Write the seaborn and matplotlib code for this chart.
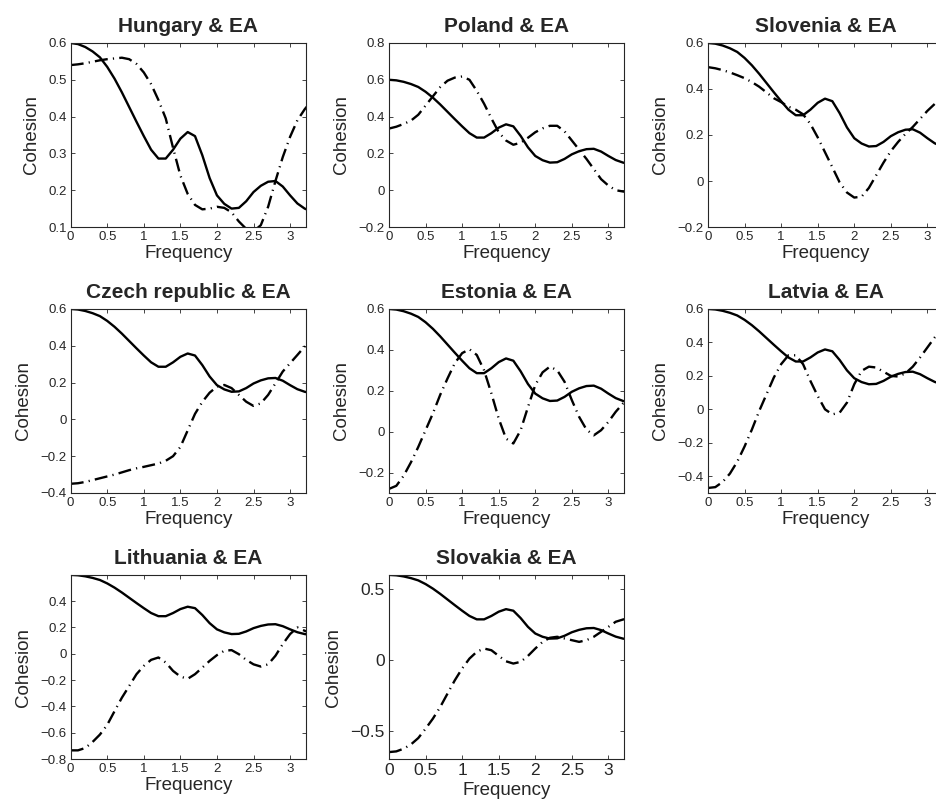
import numpy as np
import pandas as pd
import seaborn as sns
import matplotlib
matplotlib.use('Agg')
import matplotlib.pyplot as plt
from matplotlib.ticker import FuncFormatter

# frequency grid (radians), shared by every panel
freq = [0.0, 0.1, 0.2, 0.3, 0.4, 0.5, 0.6, 0.7, 0.8, 0.9, 1.0, 1.1, 1.2, 1.3, 1.4, 1.5, 1.6,
        1.7, 1.8, 1.9, 2.0, 2.1, 2.2, 2.3, 2.4, 2.5, 2.6, 2.7, 2.8, 2.9, 3.0, 3.1, 3.2, 3.25]

# solid line: euro area cohesion (same in every panel)
ea = [0.600, 0.597, 0.589, 0.577, 0.561, 0.535, 0.503, 0.466, 0.426, 0.386, 0.347, 0.310,
      0.286, 0.286, 0.310, 0.340, 0.358, 0.347, 0.295, 0.233, 0.186, 0.163, 0.150, 0.152,
      0.170, 0.195, 0.212, 0.223, 0.225, 0.210, 0.186, 0.164, 0.150, 0.146]

# dash-dot lines: country vs EA
hungary = [0.540, 0.542, 0.545, 0.549, 0.553, 0.556, 0.558, 0.560, 0.556, 0.543, 0.520, 0.488,
           0.445, 0.395, 0.315, 0.240, 0.190, 0.160, 0.148, 0.150, 0.155, 0.152, 0.140, 0.115,
           0.095, 0.088, 0.105, 0.155, 0.225, 0.290, 0.345, 0.390, 0.420, 0.432]
poland = [0.335, 0.345, 0.360, 0.378, 0.410, 0.460, 0.510, 0.560, 0.595, 0.612, 0.618, 0.600,
          0.540, 0.470, 0.390, 0.315, 0.270, 0.247, 0.258, 0.285, 0.315, 0.336, 0.350, 0.350,
          0.320, 0.270, 0.220, 0.170, 0.115, 0.060, 0.025, 0.000, -0.007, -0.010]
slovenia = [0.495, 0.490, 0.482, 0.472, 0.460, 0.447, 0.430, 0.410, 0.385, 0.360, 0.343, 0.323,
            0.310, 0.290, 0.248, 0.190, 0.125, 0.060, -0.006, -0.050, -0.072, -0.068, -0.030, 0.025,
            0.080, 0.130, 0.170, 0.205, 0.235, 0.270, 0.305, 0.335, 0.360, 0.372]
czech = [-0.350, -0.347, -0.340, -0.330, -0.320, -0.310, -0.300, -0.288, -0.276, -0.266, -0.258, -0.249,
         -0.240, -0.225, -0.200, -0.150, -0.060, 0.030, 0.095, 0.145, 0.178, 0.187, 0.170, 0.133,
         0.096, 0.073, 0.087, 0.133, 0.196, 0.260, 0.305, 0.350, 0.396, 0.418]
estonia = [-0.280, -0.265, -0.216, -0.150, -0.075, 0.007, 0.089, 0.180, 0.260, 0.335, 0.384, 0.403,
           0.375, 0.300, 0.187, 0.064, -0.034, -0.058, 0.007, 0.120, 0.228, 0.290, 0.318, 0.300,
           0.244, 0.154, 0.072, 0.010, -0.018, 0.007, 0.048, 0.097, 0.138, 0.155]
latvia = [-0.470, -0.465, -0.434, -0.384, -0.313, -0.222, -0.121, -0.010, 0.090, 0.190, 0.270, 0.323,
          0.323, 0.270, 0.170, 0.080, 0.000, -0.030, -0.020, 0.040, 0.150, 0.230, 0.255, 0.250,
          0.225, 0.200, 0.196, 0.215, 0.255, 0.310, 0.370, 0.430, 0.480, 0.500]
lithuania = [-0.734, -0.734, -0.716, -0.670, -0.614, -0.540, -0.436, -0.334, -0.245, -0.155, -0.092, -0.046,
             -0.028, -0.066, -0.130, -0.173, -0.190, -0.155, -0.105, -0.054, -0.010, 0.023, 0.028, -0.003,
             -0.046, -0.080, -0.097, -0.080, -0.015, 0.074, 0.150, 0.200, 0.175, 0.165]
slovakia = [-0.651, -0.646, -0.627, -0.597, -0.552, -0.486, -0.415, -0.333, -0.238, -0.144, -0.061, 0.009,
            0.057, 0.080, 0.068, 0.028, -0.010, -0.026, -0.014, 0.028, 0.080, 0.127, 0.156, 0.163,
            0.151, 0.139, 0.127, 0.139, 0.163, 0.198, 0.233, 0.269, 0.285, 0.290]

titles = ['Hungary & EA', 'Poland & EA', 'Slovenia & EA', 'Czech republic & EA',
          'Estonia & EA', 'Latvia & EA', 'Lithuania & EA', 'Slovakia & EA']
countries = [hungary, poland, slovenia, czech, estonia, latvia, lithuania, slovakia]
ylims = [(0.1, 0.6), (-0.2, 0.8), (-0.2, 0.6), (-0.4, 0.6),
         (-0.3, 0.6), (-0.5, 0.6), (-0.8, 0.599), (-0.7, 0.599)]
yticks = [[0.1, 0.2, 0.3, 0.4, 0.5, 0.6],
          [-0.2, 0, 0.2, 0.4, 0.6, 0.8],
          [-0.2, 0, 0.2, 0.4, 0.6],
          [-0.4, -0.2, 0, 0.2, 0.4, 0.6],
          [-0.2, 0, 0.2, 0.4, 0.6],
          [-0.4, -0.2, 0, 0.2, 0.4, 0.6],
          [-0.8, -0.6, -0.4, -0.2, 0, 0.2, 0.4],
          [-0.5, 0, 0.5]]
xticks = [0, 0.5, 1, 1.5, 2, 2.5, 3]

sns.set_style('ticks')
plt.rcParams['font.family'] = ['Liberation Sans', 'DejaVu Sans']
plt.rcParams['axes.linewidth'] = 0.8


def matlab_fmt(v, pos):
    if abs(v) < 1e-9:
        return '0'
    return ('%g' % round(v, 6)).replace('-', '\u2212')


fig = plt.figure(figsize=(9.36, 8.05), dpi=100)
lefts = [0.0755, 0.4156, 0.7564]
bottoms = [0.718, 0.3876, 0.0571]
w, h = 0.2516, 0.2286

for i, (title, series) in enumerate(zip(titles, countries)):
    r, c = divmod(i, 3)
    ax = fig.add_axes([lefts[c], bottoms[r], w, h])
    df = pd.DataFrame({'Frequency': freq, 'EA': ea, 'Country': series})
    sns.lineplot(data=df, x='Frequency', y='EA', color='k', lw=1.7, ax=ax)
    sns.lineplot(data=df, x='Frequency', y='Country', color='k', lw=1.7,
                 linestyle=(0, (5.5, 2.2, 0.5, 2.2)), ax=ax)

    ax.set_xlim(0, 3.22)
    ax.set_ylim(*ylims[i])
    ax.set_xticks(xticks)
    ax.set_yticks(yticks[i])
    ax.xaxis.set_major_formatter(FuncFormatter(matlab_fmt))
    ax.yaxis.set_major_formatter(FuncFormatter(matlab_fmt))
    big = title.startswith('Slovakia')
    ax.tick_params(direction='in', top=True, right=True, length=3, width=0.6,
                   labelsize=12.5 if big else 9.5, pad=3)
    for s in ax.spines.values():
        s.set_linewidth(0.8)
    ax.set_xlabel('Frequency', fontsize=13.5, labelpad=3 if big else 1)
    ax.set_ylabel('Cohesion', fontsize=13.5, labelpad=6)
    ax.set_title(title, fontsize=15, fontweight='bold', pad=8)

fig.savefig('out.png', dpi=100)
